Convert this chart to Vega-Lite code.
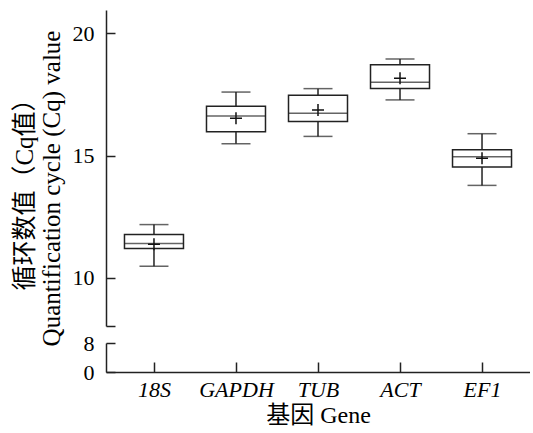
{
  "$schema": "https://vega.github.io/schema/vega-lite/v6.json",
  "padding": {"left": 12, "top": 10, "right": 0, "bottom": 5},
  "bounds": "flush",
  "config": {
    "view": {"stroke": null},
    "font": "Liberation Serif, Noto Sans CJK SC",
    "axis": {
      "labelFont": "Liberation Serif, Noto Sans CJK SC",
      "titleFont": "Liberation Serif, Noto Sans CJK SC",
      "labelFontSize": 22,
      "titleFontSize": 25,
      "titleFontWeight": "normal",
      "labelColor": "#000",
      "titleColor": "#000",
      "domainColor": "#222",
      "tickColor": "#222",
      "domainWidth": 1.5,
      "tickWidth": 1.5,
      "grid": false
    }
  },
  "data": {
    "values": [
      {"gene": "18S", "lower": 10.48, "q1": 11.20, "median": 11.41, "q3": 11.78, "upper": 12.18, "mean": 11.38},
      {"gene": "GAPDH", "lower": 15.48, "q1": 15.97, "median": 16.61, "q3": 17.01, "upper": 17.59, "mean": 16.52},
      {"gene": "TUB", "lower": 15.78, "q1": 16.39, "median": 16.73, "q3": 17.46, "upper": 17.73, "mean": 16.86},
      {"gene": "ACT", "lower": 17.27, "q1": 17.74, "median": 17.99, "q3": 18.71, "upper": 18.94, "mean": 18.15},
      {"gene": "EF1", "lower": 13.78, "q1": 14.53, "median": 14.95, "q3": 15.24, "upper": 15.89, "mean": 14.89}
    ]
  },
  "spacing": 17,
  "resolve": {"scale": {"y": "independent"}},
  "vconcat": [
    {
      "width": 424,
      "height": 316,
      "encoding": {
        "x": {"field": "gene", "type": "nominal", "sort": null, "axis": null,
              "scale": {"type": "point", "padding": 0.585}}
      },
      "layer": [
        {
          "mark": {"type": "rule", "color": "#222", "strokeWidth": 1.5},
          "encoding": {
            "y": {"field": "lower", "type": "quantitative",
                  "scale": {"domain": [8.04, 20.94], "nice": false, "zero": false},
                  "axis": {
                    "values": [8.04, 10, 15, 20],
                    "labelExpr": "datum.value < 9 ? '' : datum.label",
                    "tickSize": -9,
                    "labelPadding": 21,
                    "title": ["循环数值（Cq值）", "Quantification cycle (Cq) value"],
                    "titlePadding": 8,
                    "titleY": 178
                  }},
            "y2": {"field": "upper"}
          }
        },
        {
          "mark": {"type": "bar", "width": 59, "fill": "white", "stroke": "#222", "strokeWidth": 1.5},
          "encoding": {
            "y": {"field": "q1", "type": "quantitative"},
            "y2": {"field": "q3"}
          }
        },
        {
          "mark": {"type": "tick", "size": 59, "thickness": 1.5, "color": "#222", "orient": "horizontal"},
          "encoding": {"y": {"field": "median", "type": "quantitative"}}
        },
        {
          "mark": {"type": "tick", "size": 29, "thickness": 1.5, "color": "#222", "orient": "horizontal"},
          "encoding": {"y": {"field": "upper", "type": "quantitative"}}
        },
        {
          "mark": {"type": "tick", "size": 29, "thickness": 1.5, "color": "#222", "orient": "horizontal"},
          "encoding": {"y": {"field": "lower", "type": "quantitative"}}
        },
        {
          "mark": {"type": "point", "shape": "M-1,0H1M0,-1V1", "size": 144, "filled": false, "stroke": "#111", "strokeWidth": 1.5, "opacity": 1},
          "encoding": {"y": {"field": "mean", "type": "quantitative"}}
        }
      ]
    },
    {
      "width": 424,
      "height": 29,
      "mark": {"type": "point", "opacity": 0},
      "encoding": {
        "x": {"field": "gene", "type": "nominal", "sort": null,
              "scale": {"type": "point", "padding": 0.585},
              "axis": {"title": "基因 Gene", "labelAngle": 0, "labelFontStyle": "italic",
                       "tickSize": -10, "labelPadding": 17, "titlePadding": 3, "titleFontSize": 24}},
        "y": {"datum": 0, "type": "quantitative",
              "scale": {"domain": [0, 8], "nice": false},
              "axis": {"values": [0, 8], "tickSize": -9, "labelPadding": 21, "title": null}}
      }
    }
  ]
}
